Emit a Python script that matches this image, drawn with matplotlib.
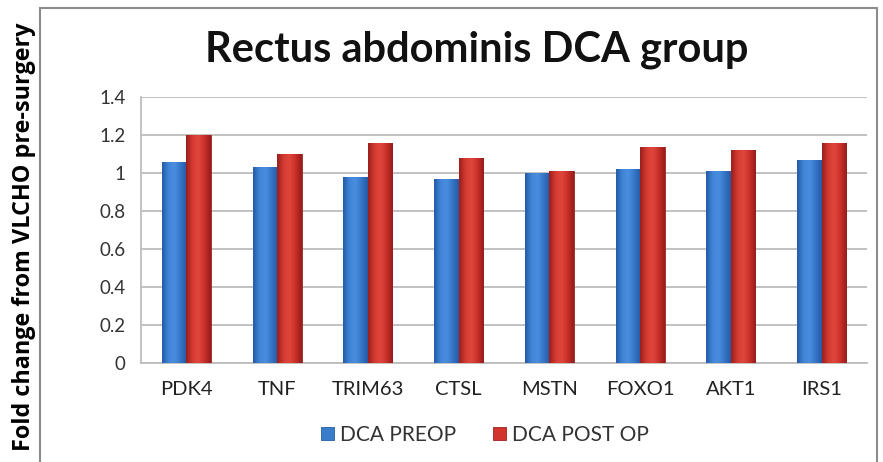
import matplotlib
matplotlib.use("Agg")
import matplotlib.pyplot as plt
from matplotlib.patches import Rectangle
from matplotlib.colors import LinearSegmentedColormap
import numpy as np

categories = ["PDK4", "TNF", "TRIM63", "CTSL", "MSTN", "FOXO1", "AKT1", "IRS1"]
preop = [1.06, 1.03, 0.98, 0.97, 1.00, 1.02, 1.01, 1.07]
postop = [1.20, 1.10, 1.16, 1.08, 1.01, 1.14, 1.12, 1.16]
yticks = [0, 0.2, 0.4, 0.6, 0.8, 1, 1.2, 1.4]
ytick_labels = ["0", "0.2", "0.4", "0.6", "0.8", "1", "1.2", "1.4"]

W, H = 883, 462
fig = plt.figure(figsize=(W / 100, H / 100), dpi=100)
fig.patch.set_facecolor("white")

# outer chart border
fig.add_artist(Rectangle((40 / W, -0.05), 837 / W, 1 - 8 / H + 0.05,
                         transform=fig.transFigure, fill=False,
                         edgecolor="#8c8c8c", linewidth=1.5))

ax = fig.add_axes([141 / W, 1 - 362.7 / H, (867 - 141) / W, (362.7 - 97.3) / H])
x = np.arange(len(categories))
bw = 0.27
b1 = ax.bar(x - bw / 2, preop, bw, color="#3a7ccc", edgecolor="#2a5ea0", linewidth=0.6,
            label="DCA PREOP", zorder=3)
b2 = ax.bar(x + bw / 2, postop, bw, color="#d0342c", edgecolor="#9e2320", linewidth=0.6,
            label="DCA POST OP", zorder=3)

cm_blue = LinearSegmentedColormap.from_list("b", ["#245aa8", "#3f84d6", "#4a8ee0", "#3576c6", "#255aa6"])
cm_red = LinearSegmentedColormap.from_list("r", ["#9a1e1c", "#d33a30", "#e0463c", "#c8302a", "#961c1a"])
grad = np.linspace(0, 1, 64).reshape(1, -1)
for bars, cm in ((b1, cm_blue), (b2, cm_red)):
    for p in bars:
        x0 = p.get_x()
        w = p.get_width()
        h = p.get_height()
        im = ax.imshow(grad, extent=[x0, x0 + w, 0, h], aspect="auto", cmap=cm,
                       zorder=3.5, interpolation="bicubic")
        im.set_clip_path(p)

ax.set_xlim(-0.5, len(categories) - 0.5)
ax.set_ylim(0, 1.4)
ax.set_aspect("auto")
ax.set_yticks(yticks)
ax.set_yticklabels(ytick_labels, fontsize=13.5, color="#333333", family="Lato")
ax.set_xticks(x)
ax.set_xticklabels(categories, fontsize=14.5, color="#222222", family="Lato")
ax.tick_params(axis="both", length=0, pad=11)
ax.tick_params(axis="x", pad=13)
ax.grid(axis="y", color="#bdbdbd", linewidth=1.3, zorder=0)
for s in ["top", "right"]:
    ax.spines[s].set_visible(False)
ax.spines["left"].set_color("#bdbdbd")
ax.spines["left"].set_linewidth(1.3)
ax.spines["bottom"].set_color("#bdbdbd")
ax.spines["bottom"].set_linewidth(1.3)

fig.text(477 / W, 1 - 50 / H, "Rectus abdominis DCA group", ha="center", va="center",
         fontsize=30, fontweight="bold", family="Lato", color="#111111")

fig.text(24 / W, 1 - 237 / H, "Fold change from VLCHO pre-surgery", rotation=90,
         ha="center", va="center", fontsize=16.8, fontweight="bold",
         family="Open Sans", color="black")

leg = fig.legend(loc="center", bbox_to_anchor=(485 / W, 1 - 435 / H), ncol=2,
                 frameon=False, prop={"family": "Lato", "size": 15},
                 handlelength=0.6, handleheight=0.6, handletextpad=0.3,
                 columnspacing=1.8)
for t in leg.get_texts():
    t.set_color("#333333")

fig.savefig("out.png", dpi=100, facecolor="white")
